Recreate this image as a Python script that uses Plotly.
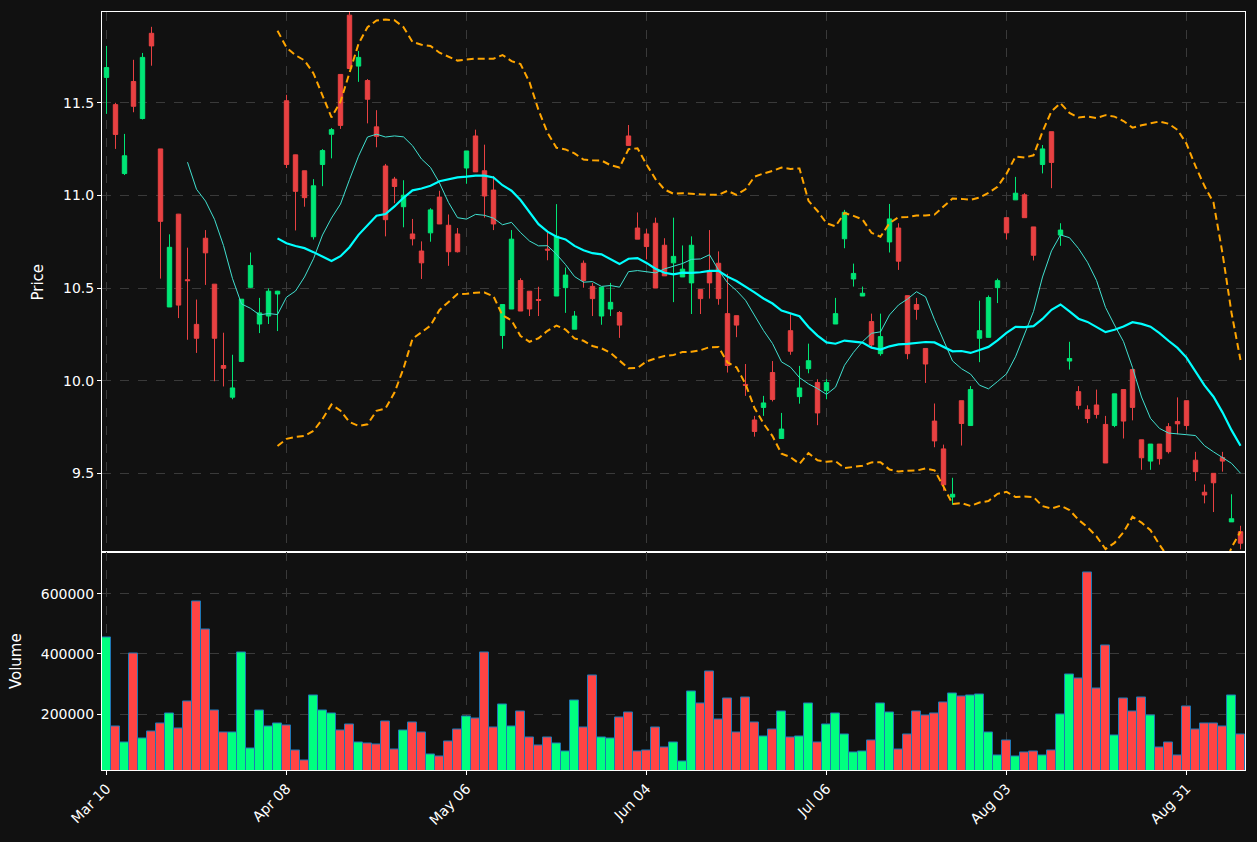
import numpy as np
import pandas as pd
import plotly.graph_objects as go
from plotly.subplots import make_subplots

opens = [11.637,11.49,11.118,11.615,11.415,11.875,11.251,10.398,10.899,10.545,10.304,10.769,10.521,10.082,9.911,10.104,10.504,10.306,10.349,10.468,
         11.511,11.219,11.133,10.777,11.167,11.33,11.653,11.973,11.698,11.62,11.37,11.159,11.088,10.939,10.792,10.7,10.798,10.991,10.839,10.792,
         11.148,11.321,11.133,11.029,10.244,10.387,10.541,10.483,10.438,10.71,10.457,10.502,10.278,10.634,10.509,10.349,10.387,10.368,11.321,10.824,
         10.792,10.85,10.731,10.636,10.56,10.528,10.492,10.587,10.634,10.362,10.351,9.98,9.788,9.856,10.044,9.688,10.27,9.914,10.065,9.99,
         9.946,10.306,10.766,10.549,10.457,10.319,10.146,10.749,10.824,10.459,10.411,10.174,9.782,9.632,9.372,9.892,9.758,10.229,10.234,10.502,
         10.88,10.976,11.003,10.83,11.167,11.344,10.786,10.106,9.941,9.843,9.869,9.764,9.758,9.952,10.06,9.681,9.566,9.658,9.752,9.78,
         9.892,9.571,9.398,9.5,9.585,9.238,9.185]
highs = [11.807,11.5,11.332,11.732,11.769,11.91,11.251,10.79,10.9,10.718,10.438,10.813,10.521,10.259,10.14,10.44,10.692,10.447,10.498,10.485,
         11.543,11.22,11.133,11.088,11.25,11.364,11.653,12.05,11.78,11.628,11.46,11.17,11.1,11.082,10.873,10.752,10.931,11.025,10.897,10.824,
         11.24,11.355,11.274,11.105,10.411,10.813,10.553,10.483,10.507,10.8,10.953,10.611,10.376,10.649,10.528,10.504,10.528,10.376,11.38,10.908,
         10.818,10.88,10.769,10.88,10.73,10.779,10.492,10.813,10.698,10.577,10.351,10.09,9.81,9.918,10.106,9.826,10.362,10.08,10.2,10.008,
         10.008,10.447,10.922,10.632,10.508,10.362,10.362,10.954,10.85,10.459,10.447,10.174,9.877,9.655,9.476,9.892,9.971,10.432,10.46,10.551,
         10.88,11.1,11.012,10.83,11.272,11.344,10.85,10.21,9.971,9.867,9.952,9.81,9.929,9.952,10.06,9.681,9.658,9.658,9.771,9.91,
         9.892,9.616,9.44,9.5,9.616,9.387,9.217]
lows = [11.44,11.251,11.11,11.449,11.41,11.70,10.551,10.398,10.338,10.221,10.15,10.517,9.997,9.969,9.90,10.10,10.50,10.257,10.306,10.268,
        11.148,10.811,10.939,10.762,11.05,11.2,11.359,11.685,11.613,11.389,11.26,10.779,10.958,10.828,10.73,10.549,10.75,10.846,10.62,10.692,
        11.063,11.127,10.88,10.813,10.172,10.387,10.376,10.349,10.349,10.65,10.457,10.366,10.278,10.502,10.349,10.302,10.349,10.231,11.27,10.764,
        10.655,10.5,10.566,10.424,10.56,10.36,10.36,10.443,10.41,10.044,10.235,9.918,9.698,9.81,9.888,9.688,10.14,9.876,10.04,9.76,
        9.9,10.306,10.715,10.508,10.457,10.178,10.135,10.692,10.598,10.116,10.329,9.988,9.641,9.406,9.33,9.65,9.758,10.1,10.234,10.419,
        10.762,10.976,10.88,10.649,11.119,11.039,10.728,10.06,9.845,9.771,9.796,9.556,9.749,9.688,9.786,9.519,9.519,9.547,9.607,9.711,
        9.735,9.459,9.338,9.291,9.509,9.238,9.09]
closes = [11.69,11.329,11.214,11.481,11.745,11.807,10.86,10.72,10.408,10.54,10.229,10.69,10.229,10.067,9.961,10.44,10.622,10.366,10.483,10.483,
          11.167,11.022,10.988,11.052,11.242,11.355,11.378,11.685,11.745,11.519,11.319,10.869,11.048,11.001,10.766,10.636,10.922,10.846,10.696,10.696,
          11.24,11.127,10.997,10.846,10.411,10.764,10.376,10.387,10.434,10.705,10.78,10.57,10.349,10.541,10.443,10.504,10.423,10.3,11.27,10.764,
          10.724,10.5,10.566,10.671,10.602,10.731,10.443,10.528,10.443,10.082,10.3,9.975,9.726,9.88,9.899,9.739,10.159,9.961,10.108,9.826,
          9.99,10.362,10.909,10.579,10.472,10.193,10.238,10.873,10.645,10.146,10.385,10.09,9.675,9.438,9.387,9.769,9.952,10.27,10.449,10.54,
          10.798,11.012,10.88,10.677,11.251,11.178,10.813,10.12,9.867,9.796,9.818,9.556,9.929,9.782,9.856,9.584,9.658,9.579,9.617,9.767,
          9.758,9.509,9.383,9.449,9.566,9.255,9.123]
volumes = [453333,160000,106667,400000,120000,143333,170000,203333,153333,243333,573333,480000,213333,137778,140000,403333,86667,213333,160000,170000,
           163333,80000,46667,263333,213333,203333,146667,166667,106667,103333,100000,176667,83333,146667,173333,140000,66667,60000,110000,150000,
           193333,186667,403333,156667,233333,160000,210000,123333,96667,123333,103333,76667,246667,156667,326667,123333,120000,190000,206667,76667,
           80000,156667,90000,106667,43333,276667,236667,340000,183333,253333,140000,256667,173333,126667,150000,210000,123333,126667,236667,106667,
           166667,203333,133333,73333,76667,113333,236667,206667,83333,133333,210000,196667,203333,240000,270000,260000,263333,266667,140000,63333,
           113333,60000,73333,76667,63333,80000,200000,330000,316667,670000,286667,426667,130000,253333,210000,256667,196667,90000,106667,63333,
           226667,150000,170000,170000,160000,263333,133333]
tick_pos = [0, 20, 40, 60, 80, 100, 120]
tick_labels = ["Mar 10", "Apr 08", "May 06", "Jun 04", "Jul 06", "Aug 03", "Aug 31"]

x = list(range(len(closes)))
c = pd.Series(closes)
ma10 = c.rolling(10).mean()
ma20 = c.rolling(20).mean()
sd20 = c.rolling(20).std(ddof=0)
upper = ma20 + 2 * sd20
lower = ma20 - 2 * sd20

GREEN = "#00e676"
RED = "#e84142"

fig = make_subplots(rows=2, cols=1, shared_xaxes=True, vertical_spacing=0.0,
                    row_heights=[0.713, 0.287])
fig.add_trace(go.Candlestick(x=x, open=opens, high=highs, low=lows, close=closes,
                             increasing=dict(line=dict(color=GREEN, width=1), fillcolor=GREEN),
                             decreasing=dict(line=dict(color=RED, width=1), fillcolor=RED),
                             whiskerwidth=0, showlegend=False), row=1, col=1)
fig.add_trace(go.Scatter(x=x, y=ma10, mode="lines", line=dict(color="#40e0d0", width=1), showlegend=False), row=1, col=1)
fig.add_trace(go.Scatter(x=x, y=ma20, mode="lines", line=dict(color="#00ffff", width=2.2), showlegend=False), row=1, col=1)
fig.add_trace(go.Scatter(x=x, y=upper, mode="lines", line=dict(color="orange", width=2, dash="7px,4px"), showlegend=False), row=1, col=1)
fig.add_trace(go.Scatter(x=x, y=lower, mode="lines", line=dict(color="orange", width=2, dash="7px,4px"), showlegend=False), row=1, col=1)

vcol = ["#00ff7f" if cl >= op else "#ff4444" for op, cl in zip(opens, closes)]
fig.add_trace(go.Bar(x=x, y=volumes, marker=dict(color=vcol, line=dict(color="#1f77b4", width=1)),
                     width=0.92, showlegend=False), row=2, col=1)

grid = dict(showgrid=True, gridcolor="#3a3a3a", griddash="dash", gridwidth=1,
            showline=True, linecolor="white", linewidth=1, mirror=True,
            tickfont=dict(color="white", size=14), zeroline=False,
            ticks="outside", tickcolor="white", ticklen=4)
fig.update_xaxes(**grid, range=[-0.5, 126.5], tickvals=tick_pos, ticktext=tick_labels,
                 rangeslider_visible=False)
fig.update_xaxes(tickangle=-45, row=2, col=1)
fig.update_yaxes(**grid)
fig.update_yaxes(range=[9.073, 11.99], tickvals=[9.5, 10.0, 10.5, 11.0, 11.5], ticktext=["9.5", "10.0", "10.5", "11.0", "11.5"],
                 title=dict(text="Price", font=dict(color="white", size=15)), row=1, col=1)
fig.update_yaxes(range=[14000, 737000], tickvals=[200000, 400000, 600000], ticktext=["200000", "400000", "600000"],
                 title=dict(text="Volume", font=dict(color="white", size=15)), row=2, col=1)
fig.update_layout(width=1257, height=842, paper_bgcolor="#111111", plot_bgcolor="#111111",
                  margin=dict(l=102, r=12, t=12, b=72), bargap=0,
                  font=dict(family="DejaVu Sans", color="white"))
fig.write_html("out.html", config={"displayModeBar": False},
               post_script="document.body.style.margin='0';document.body.style.background='#111111';")
